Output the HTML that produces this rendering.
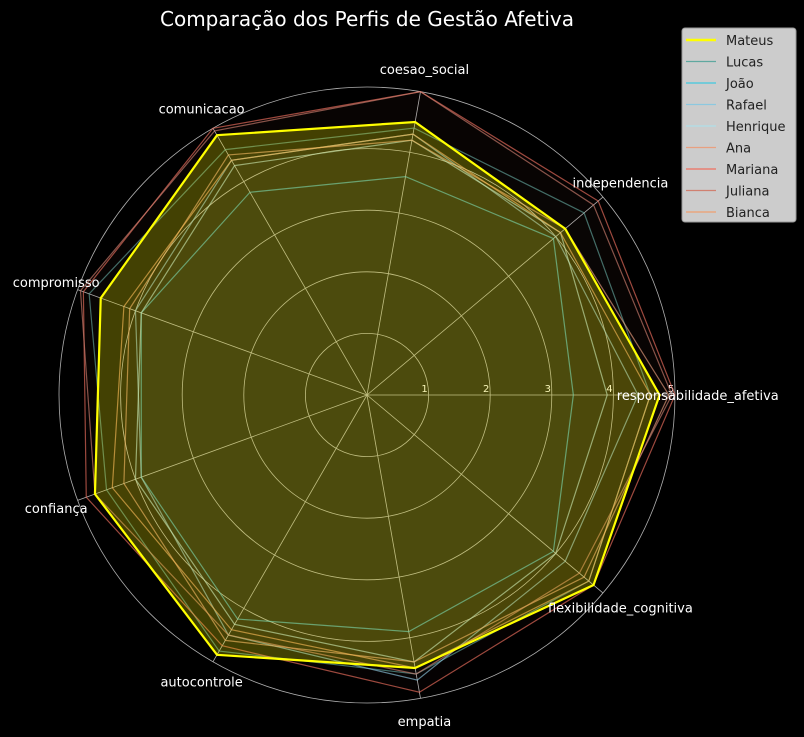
<!DOCTYPE html>
<html><head><meta charset="utf-8"><style>
body{margin:0;background:#000;}
svg{display:block;font-family:"DejaVu Sans","Liberation Sans",sans-serif;}
</style></head><body>
<svg id="chart" width="804" height="737">
<rect width="804" height="737" fill="#000"/>
<text x="367" y="26" fill="#fff" font-size="20" text-anchor="middle">Comparação dos Perfis de Gestão Afetiva</text>
<g id="grid"></g><g id="series"></g><g id="labels"></g><g id="legend"></g>
</svg>
<script>
const categories=["responsabilidade_afetiva","independencia","coesao_social","comunicacao","compromisso","confiança","autocontrole","empatia","flexibilidade_cognitiva"];
const seriesNames=["Mateus","Lucas","João","Rafael","Henrique","Ana","Mariana","Juliana","Bianca"];
const seriesColors=["#ffff00","#5fa8a0","#40c8e0","#8cc8e0","#b0e0e8","#e8a080","#f07060","#d08070","#f0a070"];
const mateus=[4.75,4.2,4.5,4.87,4.6,4.7,4.87,4.5,4.8];
const lucas=[4.6,4.6,4.4,4.6,4.8,4.5,4.8,4.6,4.7];
const joao=[3.35,3.95,3.6,3.8,3.9,3.9,4.2,3.9,3.95];
const rafael=[4.4,4.0,4.3,4.4,4.0,3.9,4.5,4.7,4.2];
const henrique=[3.9,4.1,4.2,4.3,3.9,4.0,4.3,4.4,4.0];
const ana=[4.9,4.2,4.2,4.5,4.1,4.2,4.6,4.4,4.6];
const mariana=[5.0,4.9,5.0,5.0,4.9,4.85,4.7,4.9,4.8];
const juliana=[4.95,4.8,5.0,4.95,4.95,4.7,4.5,4.6,4.5];
const bianca=[4.6,4.1,4.3,4.4,4.2,4.4,4.4,4.5,4.7];
const seriesValues=[mateus,lucas,joao,rafael,henrique,ana,mariana,juliana,bianca];
const rTicks=[1,2,3,4,5];
const NS="http://www.w3.org/2000/svg";
const cx=367,cy=395,unit=61.6;
function ang(i){return i*2*Math.PI/categories.length;}
function pt(i,v){return [cx+v*unit*Math.cos(ang(i)),cy-v*unit*Math.sin(ang(i))];}
function mk(t,a,p){const e=document.createElementNS(NS,t);for(const k in a)e.setAttribute(k,a[k]);p.appendChild(e);return e;}
const grid=document.getElementById('grid');
rTicks.forEach(r=>{
 const c=mk('circle',{cx:cx,cy:cy,r:r*unit,fill:'none',stroke:'#b0b0b0','stroke-width':0.8},grid);
 
 
 const t=mk('text',{x:cx+r*unit-4,y:cy-3,fill:'#fff','font-size':10,'text-anchor':'middle'},grid);
 t.textContent=r;
 
 
});
categories.forEach((c,i)=>{
 const p=pt(i,5);
 const l=mk('line',{x1:cx,y1:cy,x2:p[0],y2:p[1],stroke:'#b0b0b0','stroke-width':0.8},grid);
 
 
 const q=pt(i,5.37);
 const t=mk('text',{x:q[0],y:q[1]+5,fill:'#fff','font-size':13,'text-anchor':'middle'},document.getElementById('labels'));
 t.textContent=c;
 
 
});
const sg=document.getElementById('series');
const order=[1,2,3,4,5,6,7,8,0];
order.forEach(s=>{
 const pts=seriesValues[s].map((v,i)=>pt(i,v).join(',')).join(' ');
 const isM=s===0;
 const f=mk('polygon',{points:pts,fill:seriesColors[s],'fill-opacity':isM?0.24:0.02,stroke:'none'},sg);
 
 
 const p=mk('polygon',{points:pts,fill:'none',stroke:seriesColors[s],'stroke-width':isM?2.2:1.2,'stroke-opacity':isM?1:0.65},sg);
 
 
});
const lg=document.getElementById('legend');
const box=mk('rect',{x:682,y:28,width:114,height:194,rx:3,fill:'#cccccc',stroke:'#999'},lg);


seriesNames.forEach((n,i)=>{
 const y=40+i*21.5;
 const g=mk('g',{},lg);
 
 
 mk('line',{x1:686,y1:y,x2:716,y2:y,stroke:seriesColors[i],'stroke-width':i===0?2.5:1.3},g);
 const t=mk('text',{x:726,y:y+5,fill:'#222','font-size':13},g);
 t.textContent=n;
});
</script>
</body></html>
